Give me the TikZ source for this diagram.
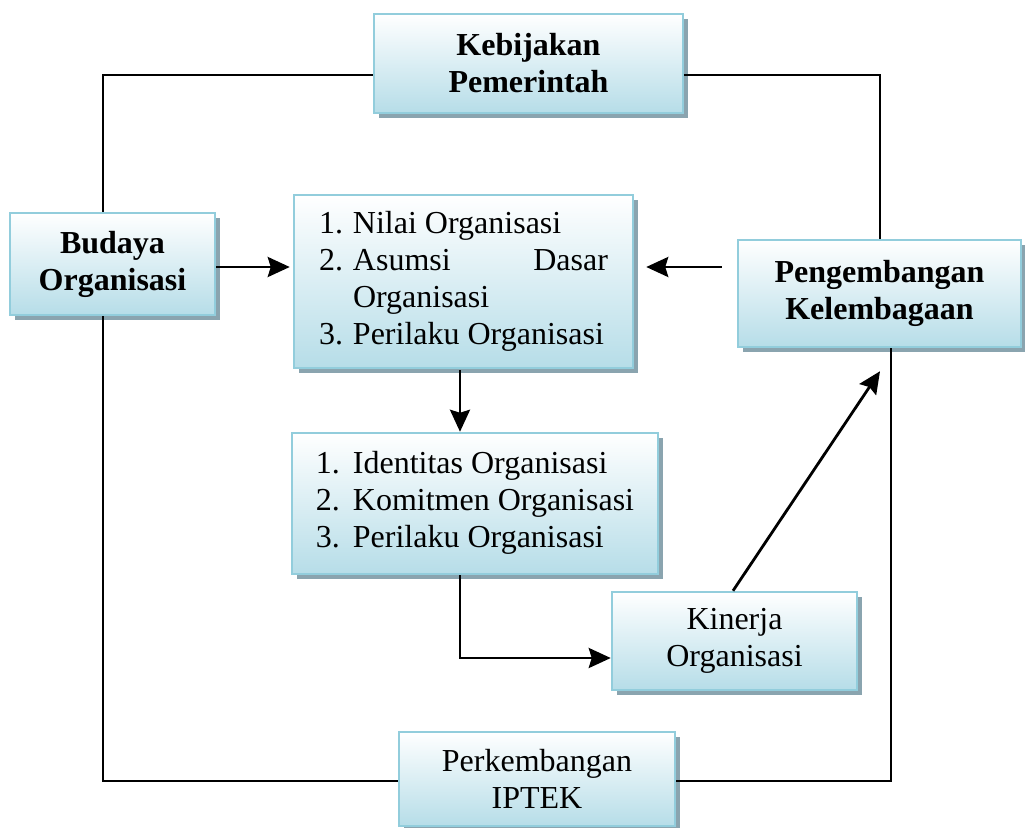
\documentclass[tikz,border=0pt]{standalone}
\usepackage{fontspec}
\setmainfont{Liberation Serif}
\usepackage{array}
\usetikzlibrary{shadows,arrows.meta,calc}
\definecolor{boxborder}{RGB}{146,205,220}
\definecolor{boxfill}{RGB}{182,221,232}
\definecolor{shadowc}{RGB}{138,164,175}
\tikzset{
  box/.style={draw=boxborder, line width=2.5pt, top color=white, bottom color=boxfill,
    inner sep=0pt, align=center, font=\fontsize{32}{37}\selectfont,
    drop shadow={shadow xshift=5pt, shadow yshift=-5pt, fill=shadowc, opacity=1}},
  conn/.style={line width=2.2pt, black},
  arr/.style={line width=2.8pt, black, -{Stealth[length=22pt,width=20pt,inset=3pt]}}
}
\begin{document}
\begin{tikzpicture}[x=1pt,y=-1pt]
\useasboundingbox (0,0) rectangle (1025,827);
\clip (0,0) rectangle (1025,827);
% coordinates for connector routing
\coordinate (c1) at (103,75);
\coordinate (c2) at (880,75);
\coordinate (c3) at (103,781);
\coordinate (c4) at (891,781);
\coordinate (r1) at (0,267);
\coordinate (v1) at (460,0);
\coordinate (c5) at (460,658);
\coordinate (k1) at (733,0);
% boxes
\node[box, minimum width=309pt, minimum height=99pt] (keb) at (528.5,63.5) {\bfseries Kebijakan\\\bfseries Pemerintah};
\node[box, minimum width=205pt, minimum height=102pt] (bud) at (112.5,264) {\bfseries Budaya\\\bfseries Organisasi};
\node[box, minimum width=283pt, minimum height=107pt] (peng) at (879.5,293.5) {\bfseries Pengembangan\\\bfseries Kelembagaan};
\node[box, minimum width=339pt, minimum height=173pt] (box1) at (463.5,281.5) {%
  \begin{tabular}{@{}p{34pt}@{}p{255pt}@{}}
  1. & Nilai Organisasi\\
  2. & Asumsi\hfill Dasar\\
     & Organisasi\\
  3. & Perilaku Organisasi
  \end{tabular}};
\node[box, minimum width=366pt, minimum height=141pt] (box2) at (475,503.5) {%
  \begin{tabular}{@{}p{37pt}@{}l@{}}
  1. & Identitas Organisasi\\
  2. & Komitmen Organisasi\\
  3. & Perilaku Organisasi
  \end{tabular}};
\node[box, minimum width=245pt, minimum height=98pt] (kin) at (734.5,641) {Kinerja\\Organisasi};
\node[box, minimum width=276pt, minimum height=94pt] (iptek) at (537,779) {Perkembangan\\IPTEK};
% outer loop
\draw[conn] (bud.north -| c1) -- (c1) -- (c1 -| keb.west);
\draw[conn] (keb.east |- c2) -- (c2) -- (c2 |- peng.north);
\draw[conn] (bud.south -| c3) -- (c3) -- (c3 -| iptek.west);
\draw[conn] (iptek.east |- c4) -- (c4) -- (c4 |- peng.south);
% arrows
\draw[arr, shorten >=3pt] (bud.east |- r1) -- (box1.west |- r1);
\draw[arr, shorten <=15pt, shorten >=12pt] (peng.west |- r1) -- (box1.east |- r1);
\draw[arr, shorten <=1pt] (box1.south -| v1) -- (box2.north -| v1);
\draw[arr] (box2.south -| c5) -- (c5) -- (c5 -| kin.west);
\draw[arr] (kin.north -| k1) -- ($(peng.south)+(0.5,23)$);
\end{tikzpicture}
\end{document}
